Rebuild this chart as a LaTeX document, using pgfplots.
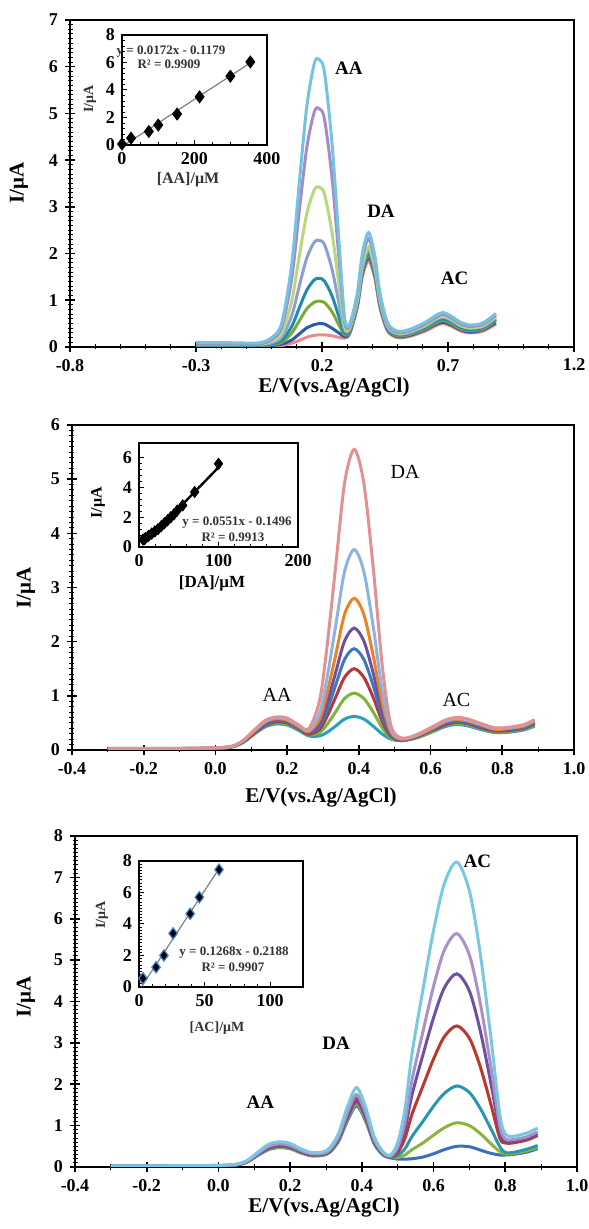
\documentclass[border=0pt]{standalone}
\usepackage{pgfplots}
\pgfplotsset{compat=1.18}
\usepackage{pgfplotstable}
\usepackage{fontspec}
\setmainfont{Liberation Serif}

\definecolor{pa1}{RGB}{232,140,140}
\definecolor{pa2}{RGB}{45,90,170}
\definecolor{pa3}{RGB}{120,170,55}
\definecolor{pa4}{RGB}{30,140,170}
\definecolor{pa5}{RGB}{140,160,215}
\definecolor{pa6}{RGB}{185,215,125}
\definecolor{pa7}{RGB}{165,140,200}
\definecolor{pa8}{RGB}{115,195,225}

\definecolor{pb1}{RGB}{40,160,185}
\definecolor{pb2}{RGB}{125,180,60}
\definecolor{pb3}{RGB}{180,55,60}
\definecolor{pb4}{RGB}{60,120,190}
\definecolor{pb5}{RGB}{110,80,160}
\definecolor{pb6}{RGB}{235,130,35}
\definecolor{pb7}{RGB}{140,180,225}
\definecolor{pb8}{RGB}{225,145,145}

\definecolor{pc1}{RGB}{60,110,190}
\definecolor{pc2}{RGB}{140,180,60}
\definecolor{pc3}{RGB}{40,150,175}
\definecolor{pc4}{RGB}{190,55,45}
\definecolor{pc5}{RGB}{110,80,160}
\definecolor{pc6}{RGB}{170,145,200}
\definecolor{pc7}{RGB}{120,200,225}
\definecolor{mkblue}{RGB}{60,130,210}

\pgfplotstableread{
x c1 c2 c3 c4 c5 c6 c7 c8
-0.30 0.01 0.02 0.03 0.04 0.05 0.06 0.06 0.10
-0.15 0.01 0.02 0.03 0.04 0.05 0.06 0.06 0.09
-0.05 0.01 0.02 0.03 0.04 0.05 0.06 0.06 0.09
0.00 0.01 0.03 0.05 0.07 0.09 0.12 0.16 0.20
0.04 0.03 0.06 0.10 0.14 0.21 0.29 0.42 0.51
0.08 0.08 0.15 0.30 0.44 0.67 0.99 1.47 1.78
0.11 0.14 0.28 0.56 0.84 1.31 1.95 2.92 3.52
0.14 0.21 0.41 0.82 1.22 1.91 2.86 4.28 5.16
0.17 0.25 0.48 0.96 1.44 2.25 3.37 5.04 6.08
0.19 0.26 0.50 0.98 1.47 2.28 3.42 5.10 6.15
0.21 0.26 0.49 0.95 1.41 2.19 3.27 4.87 5.87
0.24 0.24 0.40 0.75 1.09 1.66 2.44 3.61 4.34
0.27 0.20 0.29 0.44 0.60 0.86 1.21 1.73 2.06
0.29 0.19 0.22 0.26 0.30 0.36 0.42 0.53 0.61
0.31 0.28 0.31 0.33 0.36 0.39 0.41 0.45 0.50
0.34 0.84 0.88 0.91 0.94 0.97 1.00 1.08 1.15
0.36 1.50 1.56 1.60 1.64 1.69 1.75 1.89 2.00
0.385 1.85 1.92 1.98 2.02 2.08 2.15 2.32 2.45
0.41 1.46 1.52 1.56 1.60 1.65 1.70 1.84 1.94
0.43 0.84 0.88 0.91 0.94 0.98 1.01 1.09 1.16
0.46 0.34 0.37 0.39 0.41 0.43 0.45 0.48 0.52
0.50 0.20 0.22 0.24 0.26 0.28 0.29 0.31 0.34
0.55 0.23 0.25 0.27 0.29 0.31 0.33 0.35 0.38
0.61 0.34 0.37 0.39 0.42 0.45 0.46 0.49 0.53
0.65 0.45 0.48 0.51 0.55 0.58 0.60 0.63 0.67
0.68 0.50 0.53 0.57 0.60 0.64 0.66 0.70 0.74
0.71 0.45 0.48 0.51 0.55 0.58 0.60 0.63 0.67
0.75 0.34 0.37 0.39 0.42 0.45 0.46 0.49 0.53
0.79 0.30 0.32 0.35 0.37 0.40 0.41 0.44 0.47
0.84 0.34 0.37 0.39 0.42 0.44 0.46 0.49 0.52
0.89 0.49 0.52 0.56 0.59 0.62 0.65 0.68 0.72
}\tA

\pgfplotstableread{
x c1 c2 c3 c4 c5 c6 c7 c8
-0.30 0.02 0.02 0.02 0.02 0.02 0.02 0.03 0.03
-0.15 0.02 0.02 0.02 0.02 0.02 0.02 0.03 0.03
0.00 0.03 0.03 0.03 0.03 0.04 0.04 0.04 0.04
0.05 0.06 0.06 0.07 0.07 0.07 0.07 0.07 0.08
0.08 0.15 0.16 0.16 0.17 0.17 0.18 0.19 0.19
0.11 0.30 0.31 0.32 0.34 0.35 0.36 0.37 0.38
0.14 0.43 0.45 0.46 0.48 0.50 0.52 0.53 0.55
0.17 0.48 0.50 0.52 0.54 0.56 0.58 0.60 0.61
0.20 0.46 0.48 0.50 0.52 0.53 0.55 0.57 0.59
0.23 0.37 0.39 0.40 0.41 0.43 0.44 0.46 0.47
0.26 0.26 0.28 0.29 0.31 0.32 0.34 0.36 0.39
0.29 0.26 0.32 0.38 0.43 0.49 0.56 0.67 0.90
0.31 0.32 0.46 0.60 0.71 0.84 1.01 1.28 1.84
0.335 0.44 0.70 0.97 1.19 1.42 1.74 2.28 3.37
0.36 0.57 0.95 1.34 1.67 2.01 2.50 3.29 4.92
0.387 0.62 1.05 1.50 1.87 2.25 2.80 3.70 5.55
0.414 0.57 0.95 1.34 1.67 2.01 2.50 3.29 4.92
0.44 0.44 0.70 0.97 1.19 1.42 1.74 2.28 3.37
0.466 0.29 0.40 0.51 0.60 0.70 0.84 1.06 1.51
0.49 0.20 0.22 0.25 0.27 0.29 0.32 0.36 0.44
0.52 0.17 0.18 0.18 0.19 0.20 0.20 0.21 0.22
0.56 0.22 0.23 0.24 0.25 0.26 0.26 0.27 0.28
0.60 0.32 0.33 0.35 0.36 0.37 0.38 0.40 0.41
0.64 0.43 0.45 0.46 0.48 0.50 0.52 0.53 0.55
0.67 0.47 0.49 0.51 0.53 0.55 0.56 0.58 0.60
0.70 0.45 0.47 0.49 0.50 0.52 0.54 0.56 0.58
0.74 0.38 0.40 0.41 0.43 0.44 0.46 0.47 0.49
0.78 0.32 0.33 0.35 0.36 0.37 0.38 0.40 0.41
0.82 0.33 0.34 0.36 0.37 0.38 0.40 0.41 0.42
0.86 0.37 0.39 0.40 0.41 0.43 0.44 0.46 0.47
0.89 0.44 0.46 0.48 0.49 0.51 0.53 0.55 0.56
}\tB

\pgfplotstableread{
x c1 c2 c3 c4 c5 c6 c7
-0.30 0.02 0.02 0.02 0.02 0.02 0.02 0.03
-0.15 0.02 0.02 0.02 0.02 0.02 0.02 0.03
0.00 0.03 0.03 0.03 0.03 0.03 0.04 0.04
0.05 0.05 0.05 0.05 0.06 0.06 0.06 0.07
0.08 0.12 0.12 0.13 0.13 0.13 0.14 0.16
0.11 0.28 0.29 0.30 0.31 0.31 0.33 0.36
0.14 0.42 0.43 0.45 0.46 0.47 0.50 0.55
0.17 0.47 0.48 0.50 0.51 0.53 0.56 0.61
0.20 0.44 0.45 0.47 0.48 0.49 0.52 0.57
0.23 0.34 0.35 0.36 0.37 0.38 0.40 0.44
0.26 0.27 0.28 0.29 0.29 0.30 0.32 0.35
0.29 0.28 0.29 0.30 0.31 0.31 0.33 0.36
0.31 0.35 0.36 0.37 0.38 0.39 0.41 0.46
0.335 0.62 0.64 0.66 0.68 0.69 0.73 0.81
0.36 1.12 1.15 1.19 1.22 1.25 1.32 1.46
0.385 1.48 1.52 1.57 1.61 1.66 1.75 1.92
0.41 1.12 1.15 1.19 1.22 1.25 1.32 1.46
0.435 0.55 0.57 0.58 0.60 0.62 0.65 0.72
0.46 0.28 0.29 0.30 0.31 0.31 0.33 0.36
0.48 0.22 0.23 0.23 0.24 0.25 0.26 0.29
0.50 0.19 0.23 0.28 0.35 0.42 0.48 0.59
0.52 0.19 0.29 0.44 0.69 0.91 1.08 1.39
0.54 0.20 0.42 0.74 1.28 1.75 2.11 2.75
0.57 0.24 0.58 1.10 1.95 2.70 3.26 4.27
0.60 0.32 0.77 1.47 2.61 3.61 4.37 5.72
0.63 0.42 0.95 1.78 3.15 4.33 5.24 6.85
0.665 0.50 1.07 1.96 3.41 4.67 5.64 7.37
0.70 0.49 1.00 1.80 3.11 4.25 5.12 6.67
0.73 0.41 0.81 1.42 2.43 3.30 3.97 5.17
0.76 0.33 0.56 0.92 1.51 2.02 2.41 3.12
0.785 0.29 0.37 0.49 0.69 0.86 0.99 1.25
0.80 0.29 0.32 0.35 0.58 0.62 0.68 0.80
0.82 0.30 0.32 0.35 0.58 0.62 0.66 0.74
0.86 0.36 0.39 0.43 0.65 0.69 0.73 0.82
0.89 0.44 0.47 0.52 0.76 0.80 0.85 0.94
}\tC

\pgfplotsset{
  mainax/.style={scale only axis, anchor=south west,
    axis line style={line width=1pt},
    tick align=center, major tick length=5pt, minor tick length=2.5pt,
    xtick pos=bottom, ytick pos=left,
    every tick/.style={black, line width=0.8pt},
    every minor tick/.style={black, line width=0.5pt},
    tick label style={font=\fontsize{9}{10}\selectfont\bfseries},
    /pgf/number format/assume math mode=true},
  curve/.style={line width=1.5pt, smooth, no markers},
  inset/.style={scale only axis, anchor=south west,
    axis background/.style={fill=white},
    axis line style={line width=0.7pt},
    tick align=inside, major tick length=2.5pt, minor tick length=1.5pt,
    xtick pos=bottom, ytick pos=left,
    every tick/.style={black, line width=0.5pt},
    every minor tick/.style={black, line width=0.4pt},
    tick label style={font=\fontsize{9}{10}\selectfont\bfseries},
    /pgf/number format/assume math mode=true}
}

\begin{document}
\begin{tikzpicture}
\useasboundingbox (0,0) rectangle (294pt,614.5pt);

% ---------------- Panel 1 ----------------
\begin{axis}[mainax, at={(35pt,441pt)}, width=252pt, height=163.5pt,
  xmin=-0.8, xmax=1.2, ymin=0, ymax=7,
  xtick={-0.8,-0.3,0.2,0.7,1.2}, xticklabels={-0.8,-0.3,0.2,0.7,1.2},
  minor x tick num=4, ytick={0,1,...,7}, minor y tick num=9]
\addplot[curve, pa1] table[x=x,y=c1]{\tA};
\addplot[curve, pa2] table[x=x,y=c2]{\tA};
\addplot[curve, pa3] table[x=x,y=c3]{\tA};
\addplot[curve, pa4] table[x=x,y=c4]{\tA};
\addplot[curve, pa5] table[x=x,y=c5]{\tA};
\addplot[curve, pa6] table[x=x,y=c6]{\tA};
\addplot[curve, pa7] table[x=x,y=c7]{\tA};
\addplot[curve, pa8] table[x=x,y=c8]{\tA};
\node[font=\fontsize{9.5}{10}\selectfont\bfseries] at (axis cs:0.307,5.97) {AA};
\node[font=\fontsize{9.5}{10}\selectfont\bfseries] at (axis cs:0.434,2.9) {DA};
\node[font=\fontsize{9.5}{10}\selectfont\bfseries] at (axis cs:0.726,1.48) {AC};
\end{axis}

\begin{axis}[inset, at={(61pt,542pt)}, width=72.5pt, height=55pt,
  xmin=0, xmax=400, ymin=0, ymax=8,
  xtick={0,200,400}, ytick={0,2,4,6,8}, minor y tick num=4, minor x tick num=3]
\addplot[gray, line width=0.6pt] coordinates {(0,-0.12) (354,5.97)};
\addplot[only marks, mark=diamond*, mark size=3pt, black]
  coordinates {(0,0.07) (25,0.5) (74,0.98) (100,1.45) (152,2.25) (214,3.5) (299,5.0) (354,6.04)};
\end{axis}
\node[font=\fontsize{6.5}{7}\selectfont\bfseries, text=black!80] at (85.5pt,588.5pt) {y = 0.0172x - 0.1179};
\node[font=\fontsize{6.5}{7}\selectfont\bfseries, text=black!80] at (84.5pt,582.5pt) {R² = 0.9909};
\node[font=\fontsize{8}{9}\selectfont\bfseries, text=black!80, inner sep=0.5pt] at (94pt,524.5pt) {[AA]/μM};
\node[rotate=90, font=\fontsize{7}{8}\selectfont\bfseries, text=black!80] at (45pt,565pt) {I/μA};

\node[font=\fontsize{10.5}{12}\selectfont\bfseries] at (167pt,420.5pt) {E/V(vs.Ag/AgCl)};
\node[rotate=90, font=\fontsize{10.5}{12}\selectfont\bfseries] at (9.5pt,523pt) {I/μA};

% ---------------- Panel 2 ----------------
\begin{axis}[mainax, at={(36pt,239.5pt)}, width=251pt, height=162.5pt,
  xmin=-0.4, xmax=1.0, ymin=0, ymax=6,
  xtick={-0.4,-0.2,0,0.2,0.4,0.6,0.8,1.0},
  xticklabels={-0.4,-0.2,0.0,0.2,0.4,0.6,0.8,1.0},
  minor x tick num=1, ytick={0,1,...,6}, minor y tick num=9]
\addplot[curve, pb1] table[x=x,y=c1]{\tB};
\addplot[curve, pb2] table[x=x,y=c2]{\tB};
\addplot[curve, pb3] table[x=x,y=c3]{\tB};
\addplot[curve, pb4] table[x=x,y=c4]{\tB};
\addplot[curve, pb5] table[x=x,y=c5]{\tB};
\addplot[curve, pb6] table[x=x,y=c6]{\tB};
\addplot[curve, pb7] table[x=x,y=c7]{\tB};
\addplot[curve, pb8] table[x=x,y=c8]{\tB};
\node[font=\fontsize{10}{11}\selectfont] at (axis cs:0.529,5.14) {DA};
\node[font=\fontsize{10}{11}\selectfont] at (axis cs:0.172,1.02) {AA};
\node[font=\fontsize{10}{11}\selectfont] at (axis cs:0.672,0.92) {AC};
\end{axis}

\begin{axis}[inset, at={(69.5pt,341pt)}, width=79.5pt, height=52pt,
  xmin=0, xmax=200, ymin=0, ymax=7,
  xtick={0,100,200}, ytick={0,2,4,6}, minor y tick num=4, minor x tick num=4]
\addplot[black, line width=1.2pt] coordinates {(6,0.18) (102,5.47)};
\addplot[only marks, mark=diamond*, mark size=2.8pt, black]
  coordinates {(5,0.5) (8,0.6) (12,0.75) (16,0.9) (20,1.05) (24,1.2) (28,1.4) (32,1.6) (36,1.8) (40,2.0) (44,2.2) (48,2.45) (55,2.8) (70,3.7) (100,5.6)};
\end{axis}
\node[font=\fontsize{6.5}{7}\selectfont\bfseries, text=black!80] at (118.5pt,353pt) {y = 0.0551x - 0.1496};
\node[font=\fontsize{6.5}{7}\selectfont\bfseries, text=black!80] at (116.5pt,346pt) {R² = 0.9913};
\node[font=\fontsize{8.5}{9}\selectfont\bfseries] at (106pt,323pt) {[DA]/μM};
\node[rotate=90, font=\fontsize{8}{9}\selectfont\bfseries] at (49pt,363pt) {I/μA};

\node[font=\fontsize{10.5}{12}\selectfont\bfseries] at (160.5pt,215.5pt) {E/V(vs.Ag/AgCl)};
\node[rotate=90, font=\fontsize{10.5}{12}\selectfont\bfseries] at (13pt,320.5pt) {I/μA};

% ---------------- Panel 3 ----------------
\begin{axis}[mainax, at={(37.5pt,31pt)}, width=251pt, height=165.5pt,
  xmin=-0.4, xmax=1.0, ymin=0, ymax=8,
  xtick={-0.4,-0.2,0,0.2,0.4,0.6,0.8,1.0},
  xticklabels={-0.4,-0.2,0.0,0.2,0.4,0.6,0.8,1.0},
  minor x tick num=1, ytick={0,1,...,8}, minor y tick num=9]
\addplot[curve, pc1] table[x=x,y=c1]{\tC};
\addplot[curve, pc2] table[x=x,y=c2]{\tC};
\addplot[curve, pc3] table[x=x,y=c3]{\tC};
\addplot[curve, pc4] table[x=x,y=c4]{\tC};
\addplot[curve, pc5] table[x=x,y=c5]{\tC};
\addplot[curve, pc6] table[x=x,y=c6]{\tC};
\addplot[curve, pc7] table[x=x,y=c7]{\tC};
\node[font=\fontsize{9.5}{10}\selectfont\bfseries] at (axis cs:0.722,7.38) {AC};
\node[font=\fontsize{9.5}{10}\selectfont\bfseries] at (axis cs:0.328,2.98) {DA};
\node[font=\fontsize{9.5}{10}\selectfont\bfseries] at (axis cs:0.117,1.57) {AA};
\end{axis}

\begin{axis}[inset, at={(69.5pt,121pt)}, width=82pt, height=63pt,
  xmin=0, xmax=125, ymin=0, ymax=8,
  xtick={0,50,100}, ytick={0,2,4,6,8}, minor y tick num=9, minor x tick num=4]
\addplot[gray, line width=0.6pt] coordinates {(2,0.03) (62,7.64)};
\addplot[only marks, mark=diamond*, mark size=2.8pt, draw=mkblue, fill=black, line width=0.6pt]
  coordinates {(3,0.55) (13,1.25) (19,2.0) (26,3.4) (39,4.65) (46,5.7) (61,7.45)};
\end{axis}
\node[font=\fontsize{6.5}{7}\selectfont\bfseries, text=black!80] at (117pt,138pt) {y = 0.1268x - 0.2188};
\node[font=\fontsize{6.5}{7}\selectfont\bfseries, text=black!80] at (116.5pt,131pt) {R² = 0.9907};
\node[font=\fontsize{7}{8}\selectfont\bfseries, text=black!80] at (108.5pt,100.5pt) {[AC]/μM};
\node[rotate=90, font=\fontsize{7}{8}\selectfont\bfseries, text=black!80] at (51pt,157pt) {I/μA};

\node[font=\fontsize{10.5}{12}\selectfont\bfseries] at (162pt,10.5pt) {E/V(vs.Ag/AgCl)};
\node[rotate=90, font=\fontsize{10.5}{12}\selectfont\bfseries] at (13pt,116pt) {I/μA};
\end{tikzpicture}
\end{document}
